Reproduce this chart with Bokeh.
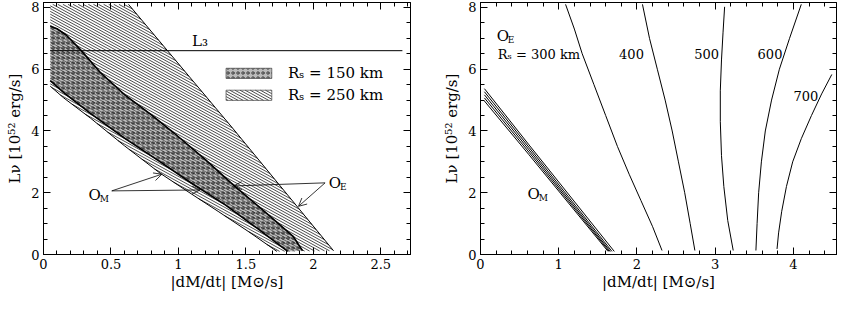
import numpy as np
from bokeh.plotting import figure
from bokeh.layouts import row
from bokeh.models import (LinearAxis, SingleIntervalTicker, CustomJSTickFormatter, Range1d,
                          Label, Arrow, OpenHead, ColumnDataSource)
from bokeh.embed import file_html
from bokeh.resources import INLINE

FONT = "DejaVu Serif"

# ---------------- data: left panel ----------------
# R_s = 250 km region: upper (O_E) boundary and lower (O_M) boundary
d250_upper_x = [0.63, 1.40, 2.15]
d250_upper_y = [8.10, 4.10, 0.12]
d250_lower_x = [0.05, 0.15, 0.35, 0.60, 0.865, 1.10, 1.30, 1.52, 1.73]
d250_lower_y = [5.45, 5.07, 4.41, 3.52, 2.63, 1.95, 1.38, 0.74, 0.10]
d250_top_y = 8.10
# R_s = 150 km region
d150_upper_x = [0.05, 0.10, 0.17, 0.27, 0.42, 0.60, 0.80, 0.963, 1.20, 1.41, 1.65, 1.85, 1.92]
d150_upper_y = [7.39, 7.31, 7.10, 6.65, 5.90, 5.18, 4.52, 3.95, 3.07, 2.24, 1.35, 0.59, 0.12]
d150_lower_x = [0.05, 0.15, 0.35, 0.60, 0.865, 1.10, 1.35, 1.58, 1.81]
d150_lower_y = [5.63, 5.24, 4.56, 3.77, 3.00, 2.30, 1.60, 0.86, 0.10]
# L3 line
L3_x = [0.05, 2.66]
L3_value = 6.6
legend_labels = ["R\u209b = 150 km", "R\u209b = 250 km"]

# ---------------- data: right panel ----------------
om_starts = [5.37, 5.27, 5.17, 5.07, 4.97]
om_mid = [3.55, 3.47, 3.39, 3.31, 3.23]
om_ends = [1.71, 1.68, 1.66, 1.645, 1.63]
om_x0 = 0.05
om_xm = 0.62
om_yend = 0.10

oe_curves = {
    "300": ([1.087, 1.20, 1.30, 1.45, 1.60, 1.75, 1.90, 2.05, 2.20, 2.32],
            [8.10, 7.30, 6.50, 5.50, 4.50, 3.50, 2.60, 1.75, 0.90, 0.13]),
    "400": ([2.07, 2.16, 2.26, 2.36, 2.45, 2.53, 2.61, 2.68, 2.74],
            [8.10, 7.00, 6.00, 5.00, 4.00, 3.00, 2.00, 1.00, 0.13]),
    "500": ([3.12, 3.10, 3.08, 3.065, 3.065, 3.08, 3.11, 3.16, 3.23],
            [8.02, 7.20, 6.30, 5.30, 4.30, 3.20, 2.20, 1.10, 0.13]),
    "600": ([4.10, 3.95, 3.82, 3.72, 3.64, 3.59, 3.555, 3.535, 3.52],
            [8.10, 7.00, 6.00, 5.00, 4.00, 3.00, 2.00, 1.00, 0.13]),
    "700": ([4.49, 4.36, 4.23, 4.10, 3.99, 3.91, 3.85, 3.81, 3.79],
            [5.83, 5.20, 4.50, 3.75, 3.00, 2.20, 1.40, 0.70, 0.18]),
}
oe_label_text = ["400", "500", "600", "700"]
oe_label_x = [1.93, 2.89, 3.70, 4.16]
oe_label_y = [6.48, 6.48, 6.48, 5.12]

x_label = "|dM/dt| [M\u2299/s]"
y_label = "L\u03bd [10\u2075\u00b2 erg/s]"

H = 293
W1, W2 = 418, 419
X1MAX, X2MAX, YMAX = 2.72, 4.55, 8.16

# screen scale of the left panel (for a shallow hatch drawn as clipped lines)
PX_X = (W1 - 43 - 8) / X1MAX
PX_Y = 253 / YMAX
HATCH_M = 0.55 * PX_X / PX_Y       # screen slope 0.55 (down-right)
HATCH_DC = 2.8 / PX_Y              # 2.8 px vertical spacing


def hatch_segments(px, py, m=HATCH_M, dc=HATCH_DC):
    px = np.asarray(px, float)
    py = np.asarray(py, float)
    v = py + m * px
    xs, ys = [], []
    n = len(px)
    for c in np.arange(np.floor(v.min() / dc) * dc + dc / 2, v.max(), dc):
        f = v - c
        hits = []
        for i in range(n):
            j = (i + 1) % n
            if (f[i] > 0) != (f[j] > 0):
                t = f[i] / (f[i] - f[j])
                hits.append(px[i] + t * (px[j] - px[i]))
        hits.sort()
        for a, b in zip(hits[0::2], hits[1::2]):
            xs.append([a, b])
            ys.append([c - m * a, c - m * b])
    return xs, ys


H150 = dict(fill_color="#777777", fill_alpha=0.5, hatch_pattern="o", hatch_scale=5,
            hatch_weight=0.8, hatch_color="black", hatch_alpha=0.8)


def style(p, xint, xminor):
    p.outline_line_color = "black"
    p.outline_line_width = 1
    p.background_fill_color = "white"
    p.border_fill_color = "white"
    p.xgrid.visible = False
    p.ygrid.visible = False
    fmt = CustomJSTickFormatter(code="return String(Math.round(tick*10)/10)")
    blank = CustomJSTickFormatter(code="return ''")
    xt = SingleIntervalTicker(interval=xint, num_minor_ticks=xminor)
    yt = SingleIntervalTicker(interval=2, num_minor_ticks=4)
    for ax, t in ((p.xaxis[0], xt), (p.yaxis[0], yt)):
        ax.ticker = t
        ax.formatter = fmt
        ax.major_tick_in = 7
        ax.major_tick_out = 0
        ax.minor_tick_in = 4
        ax.minor_tick_out = 0
        ax.major_label_text_font = FONT
        ax.major_label_text_font_size = "13px"
        ax.major_label_text_color = "black"
        ax.axis_label_text_font = FONT
        ax.axis_label_text_font_style = "normal"
        ax.axis_label_text_font_size = "15px"
        ax.axis_label_text_color = "black"
        ax.axis_line_color = "black"
        ax.major_tick_line_color = "black"
        ax.minor_tick_line_color = "black"
    p.xaxis[0].axis_label = x_label
    p.yaxis[0].axis_label = y_label
    p.xaxis[0].major_label_standoff = 4
    p.xaxis[0].axis_label_standoff = 1
    p.yaxis[0].major_label_standoff = 4
    p.yaxis[0].axis_label_standoff = 4
    for side, t in (("above", xt), ("right", yt)):
        ax = LinearAxis(ticker=t, formatter=blank, major_label_text_font_size="0px",
                        major_label_standoff=0, major_tick_in=7, major_tick_out=0,
                        minor_tick_in=4, minor_tick_out=0, axis_line_color="black")
        p.add_layout(ax, side)


def sub_label(p, x, y, main, sub, size, dx, dy):
    p.add_layout(Label(x=x, y=y, text=main, text_font=FONT, text_font_size=f"{size}px",
                       text_align="center", text_baseline="middle", text_color="black"))
    p.add_layout(Label(x=x, y=y, x_offset=dx, y_offset=dy, text=sub, text_font=FONT,
                       text_font_size=f"{int(size*0.6)}px", text_align="left",
                       text_baseline="middle", text_color="black"))


# ---------------- left figure ----------------
p1 = figure(width=W1, height=H, x_range=Range1d(0, X1MAX), y_range=Range1d(0, YMAX),
            output_backend="svg", toolbar_location=None,
            min_border_left=43, min_border_right=8, min_border_top=2, min_border_bottom=35)
style(p1, 0.5, 5)

# 250 km region (shallow line hatching)
poly250_x = [d250_lower_x[0]] + d250_upper_x + d250_lower_x[::-1]
poly250_y = [d250_top_y] + d250_upper_y + d250_lower_y[::-1]
hx, hy = hatch_segments(poly250_x, poly250_y)
p1.multi_line(hx, hy, line_color="black", line_width=0.7)
# 150 km region (cross-hatch)
poly150_x = d150_upper_x + d150_lower_x[::-1]
poly150_y = d150_upper_y + d150_lower_y[::-1]
p1.patch(poly150_x, poly150_y, line_color=None, **H150)

# boundaries
p1.line(d250_upper_x, d250_upper_y, line_color="black", line_width=1)
p1.line(d250_lower_x, d250_lower_y, line_color="black", line_width=1)
p1.line(d150_upper_x, d150_upper_y, line_color="black", line_width=1.6)
p1.line(d150_lower_x, d150_lower_y, line_color="black", line_width=1.6)
p1.line(L3_x, [L3_value, L3_value], line_color="black", line_width=1)

# legend (key boxes + labels)
key_left, key_right = 1.353, 1.692
key_bottom = [5.70, 4.99]
key_top = [6.03, 5.32]
p1.quad(left=[key_left], right=[key_right], bottom=[key_bottom[0]], top=[key_top[0]],
        line_color="#555555", line_width=0.8, **H150)
kx, ky = hatch_segments([key_left, key_right, key_right, key_left],
                        [key_bottom[1], key_bottom[1], key_top[1], key_top[1]])
p1.multi_line(kx, ky, line_color="black", line_width=0.7)
p1.quad(left=[key_left], right=[key_right], bottom=[key_bottom[1]], top=[key_top[1]],
        fill_color=None, line_color="#555555", line_width=0.8)
p1.text(x=[1.812, 1.812], y=[(b + t) / 2 for b, t in zip(key_bottom, key_top)], text=legend_labels,
        text_font={"value": FONT}, text_font_size={"value": "15px"}, text_align="left",
        text_baseline="middle", text_color="black")

p1.add_layout(Label(x=1.10, y=6.9, text="L\u2083", text_font=FONT, text_font_size="15px",
                    text_align="left", text_baseline="middle", text_color="black"))

# arrows
arr_x0 = [0.506, 0.506, 2.087, 2.087]
arr_y0 = [2.06, 2.06, 2.32, 2.32]
arr_x1 = [0.877, 1.16, 1.41, 1.89]
arr_y1 = [2.60, 2.09, 2.22, 1.56]
p1.add_layout(Arrow(end=OpenHead(size=8, line_width=0.8, line_color="black"),
                    source=ColumnDataSource(dict(x0=arr_x0, y0=arr_y0, x1=arr_x1, y1=arr_y1)),
                    x_start="x0", y_start="y0", x_end="x1", y_end="y1",
                    line_width=0.8, line_color="black"))
sub_label(p1, 0.38, 1.93, "O", "M", 15, 5, -4)
sub_label(p1, 2.16, 2.33, "O", "E", 15, 5, -4)

# ---------------- right figure ----------------
p2 = figure(width=W2, height=H, x_range=Range1d(0, X2MAX), y_range=Range1d(0, YMAX),
            output_backend="svg", toolbar_location=None,
            min_border_left=62, min_border_right=1, min_border_top=2, min_border_bottom=35)
style(p2, 1, 5)

for s, m, e in zip(om_starts, om_mid, om_ends):
    p2.line([om_x0, om_xm, e], [s, m, om_yend], line_color="black", line_width=1)

for key, (cx, cy) in oe_curves.items():
    p2.line(cx, cy, line_color="black", line_width=1)

sub_label(p2, 0.285, 7.06, "O", "E", 15, 5, -4)
sub_label(p2, 0.68, 1.96, "O", "M", 15, 5, -4)
p2.add_layout(Label(x=0.22, y=6.48, text="R\u209b = 300 km", text_font=FONT, text_font_size="13px",
                    text_align="left", text_baseline="middle", text_color="black"))
p2.text(x=oe_label_x, y=oe_label_y, text=oe_label_text, text_font={"value": FONT},
        text_font_size={"value": "13px"}, text_align="center", text_baseline="middle",
        text_color="black")

layout = row(p1, p2)
open("out.html", "w").write(file_html(layout, INLINE))
